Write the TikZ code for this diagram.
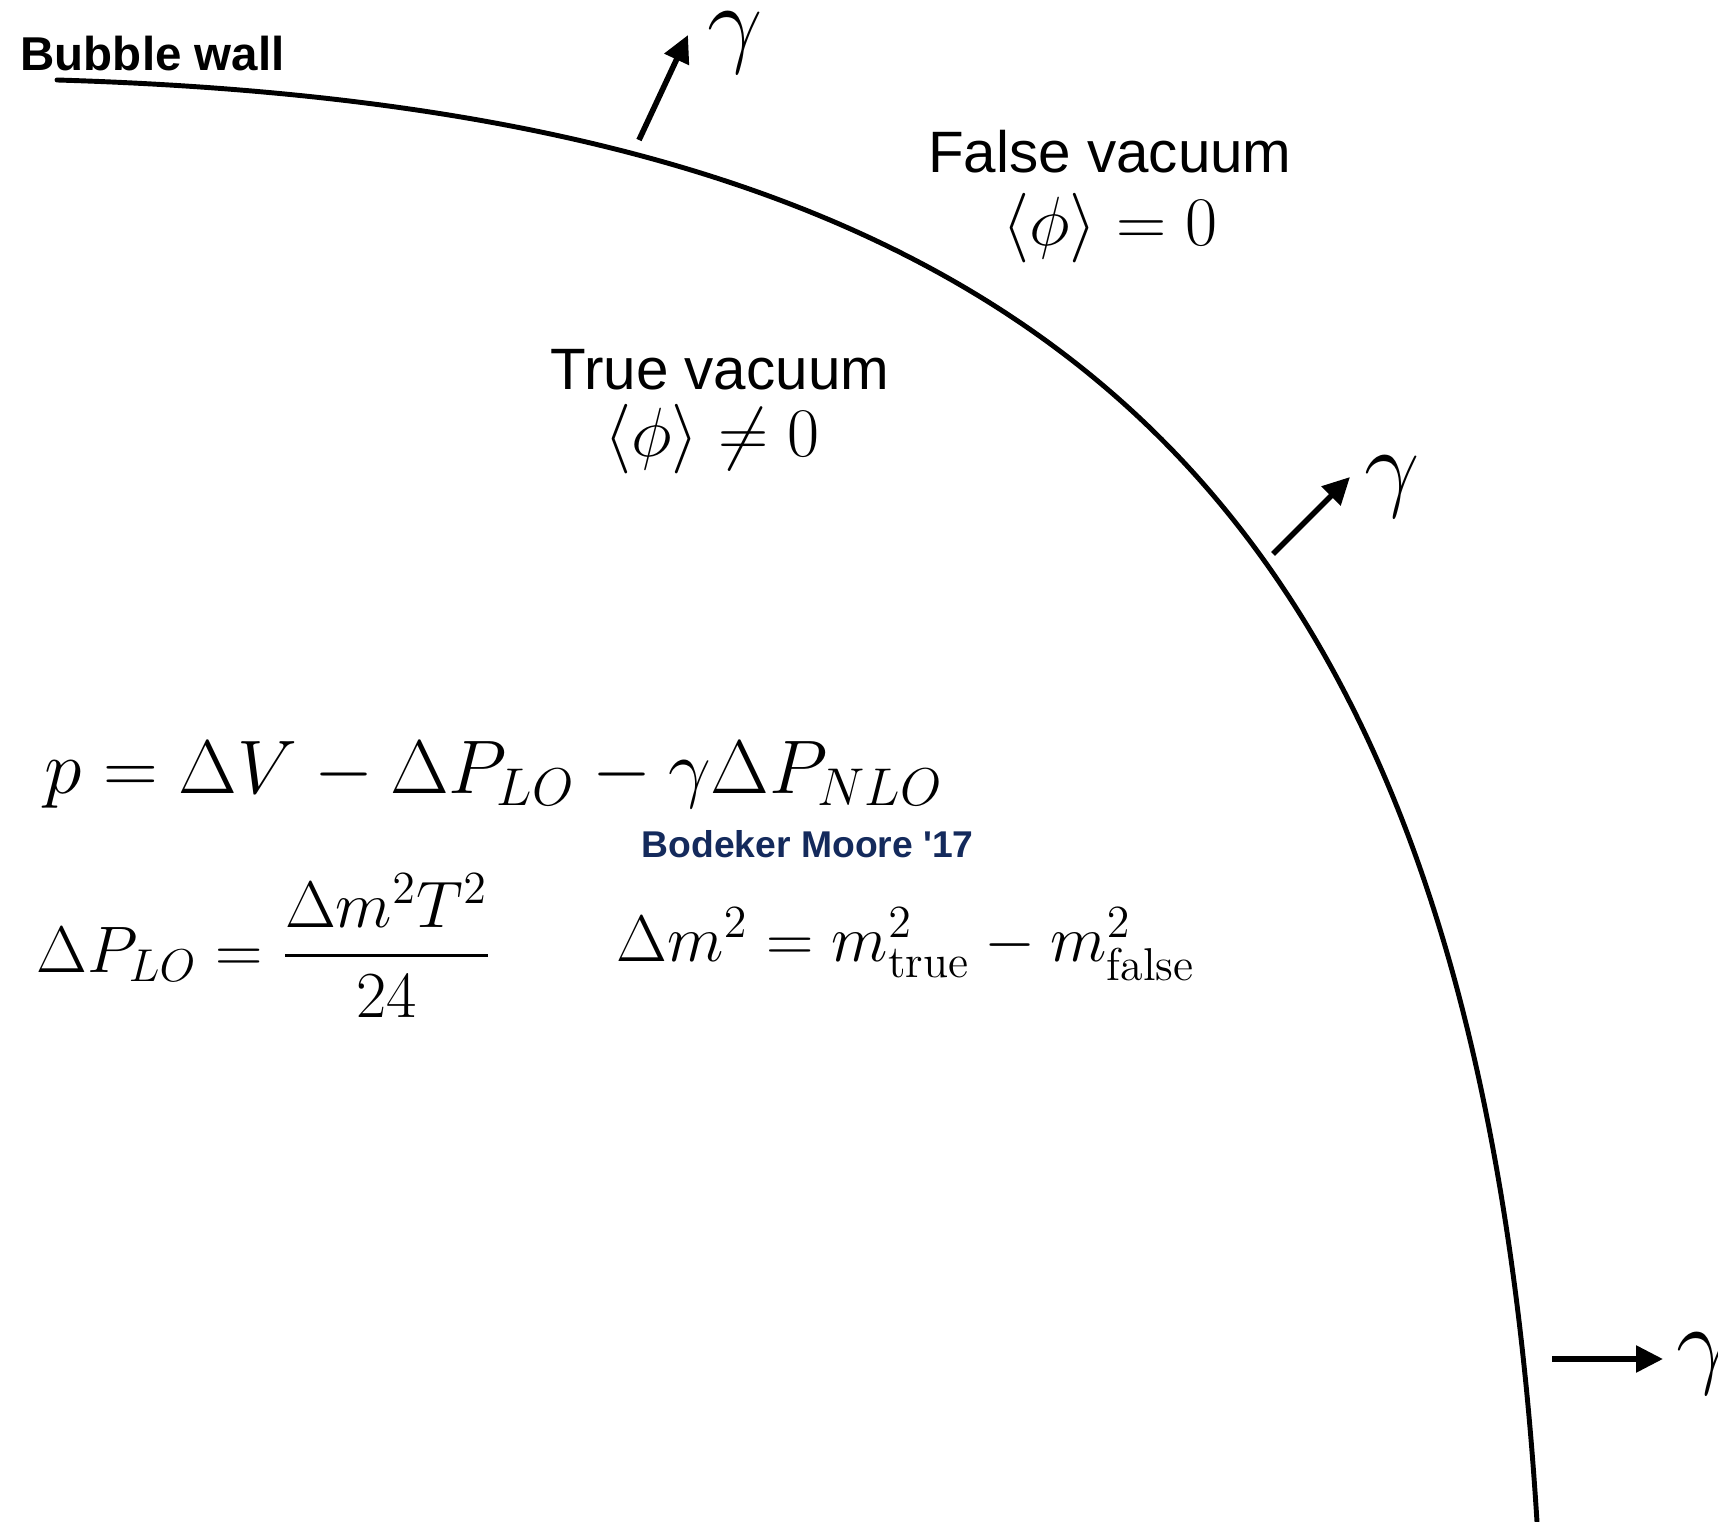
\RequirePackage{fix-cm}
\documentclass[tikz,border=0pt]{standalone}
\usepackage{amsmath,amssymb}
\usepackage{fontspec}
\setsansfont{Liberation Sans}
\usepackage{tikz}
\usetikzlibrary{arrows.meta}
\definecolor{navy}{RGB}{20,42,92}

\begin{document}
\begin{tikzpicture}[x=0.01cm, y=-0.01cm,
    wall/.style={line width=1.4pt, line cap=round},
    ray/.style={-{Triangle[length=0.27cm, width=0.26cm]}, line width=1.6pt},
    gammalabel/.style={anchor=base west, inner sep=0pt, font=\fontsize{28}{34}\selectfont},
    walltitle/.style={anchor=base west, inner sep=0pt, font=\sffamily\bfseries\fontsize{13.5}{16}\selectfont},
    region/.style={anchor=base, inner sep=0pt, font=\sffamily\fontsize{16.6}{20}\selectfont},
    vev/.style={anchor=base, inner sep=0pt, font=\fontsize{19.8}{24}\selectfont},
    formula/.style={anchor=base west, inner sep=0pt, font=\fontsize{18.7}{22}\selectfont},
    cite/.style={anchor=base west, inner sep=0pt, text=navy, font=\sffamily\bfseries\fontsize{10.6}{13}\selectfont}
]
\clip (0,0) rectangle (1718,1522);

% the wall
\coordinate (wallstart) at (57,80);
\coordinate (wallend) at (1537,1522);
\draw[wall] (wallstart) .. controls (1057,110) and (1473,492) .. (wallend);
\node[walltitle] (title) at (20,71) {Bubble wall};

% outgoing gamma
\foreach \n/\bx/\by/\tx/\ty/\gx/\gy in {1/639/140/688/35/707/55,
    2/1273/554/1350/477/1364/499, 3/1552/1359/1663/1359/1676/1375} {
    \coordinate (base\n) at (\bx,\by);
    \coordinate (tip\n) at (\tx,\ty);
    \node[gammalabel] (gamma\n) at (\gx,\gy) {$\gamma$};
    \draw[ray] (base\n) -- (tip\n);
}

\node[region] (falsevac) at (1110,173) {False vacuum};
\node[vev] (falsevev) at (1110,246) {$\langle\phi\rangle = 0$};
\node[region] (truevac) at (720,390) {True vacuum};
\node[vev] (truevev) at (712,457) {$\langle\phi\rangle \neq 0$};

\node[formula, font=\fontsize{21.6}{26}\selectfont] (pressure) at (44,794) {$p = \Delta V - \Delta P_{LO} - \gamma \Delta P_{NLO}$};
\node[cite] (ref) at (641,857) {Bodeker Moore \textquotesingle 17};
\node[formula] (plo) at (36,972) {$\displaystyle \Delta P_{LO} = \frac{\Delta m^2 T^2}{24}$};
\node[formula] (dmsq) at (616,961) {$\Delta m^2 = m^2_{\text{true}} - m^2_{\text{false}}$};

\end{tikzpicture}
\end{document}
